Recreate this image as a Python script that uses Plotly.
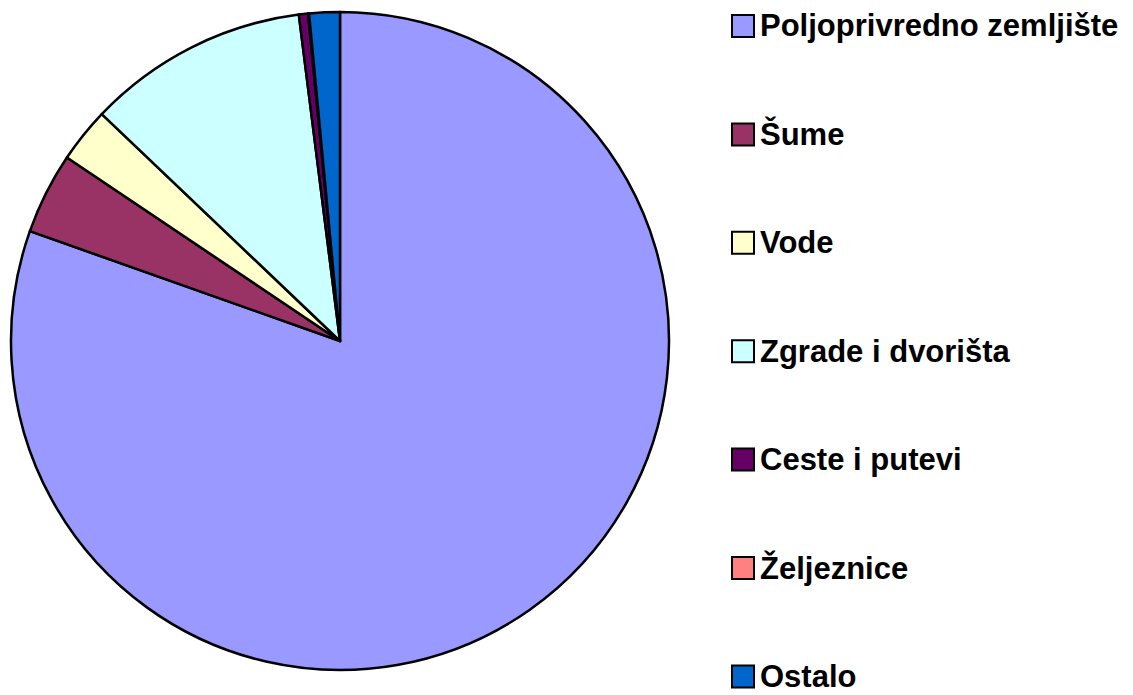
import plotly.graph_objects as go

labels = ["Poljoprivredno zemljište", "Šume", "Vode", "Zgrade i dvorišta",
          "Ceste i putevi", "Željeznice", "Ostalo"]
values = [80.5, 4.0, 2.7, 10.9, 0.45, 0.05, 1.5]
colors = ["#9999FF", "#993366", "#FFFFCC", "#CCFFFF", "#660066", "#FF8080", "#0066CC"]

OFF = 8  # page body margin
W, H = 1133 - OFF, 695 - OFF
cx, cy, r = 340 - OFF, 341 - OFF, 329

fig = go.Figure(go.Pie(
    labels=labels, values=values, sort=False, direction="clockwise", rotation=0,
    marker=dict(colors=colors, line=dict(color="black", width=2.5)),
    textinfo="none", showlegend=False,
    domain=dict(x=[(cx - r) / W, (cx + r) / W], y=[(H - cy - r) / H, (H - cy + r) / H]),
))

shapes, annotations = [], []
y0, step = 26 - OFF, 108.4
for i, (lab, col) in enumerate(zip(labels, colors)):
    yc = y0 + i * step
    shapes.append(dict(type="rect", xref="paper", yref="paper",
                       x0=(732 - OFF) / W, x1=(754 - OFF) / W,
                       y0=(H - yc - 11) / H, y1=(H - yc + 11) / H,
                       fillcolor=col, line=dict(color="black", width=2)))
    annotations.append(dict(text=f"<b>{lab}</b>", xref="paper", yref="paper",
                            x=(758 - OFF) / W, y=(H - yc) / H, xanchor="left", yanchor="middle",
                            showarrow=False,
                            font=dict(family="Liberation Sans, Arial", size=31, color="black")))

fig.update_layout(width=W, height=H, margin=dict(l=0, r=0, t=0, b=0),
                  paper_bgcolor="white", plot_bgcolor="white",
                  shapes=shapes, annotations=annotations)
fig.write_html("out.html")
